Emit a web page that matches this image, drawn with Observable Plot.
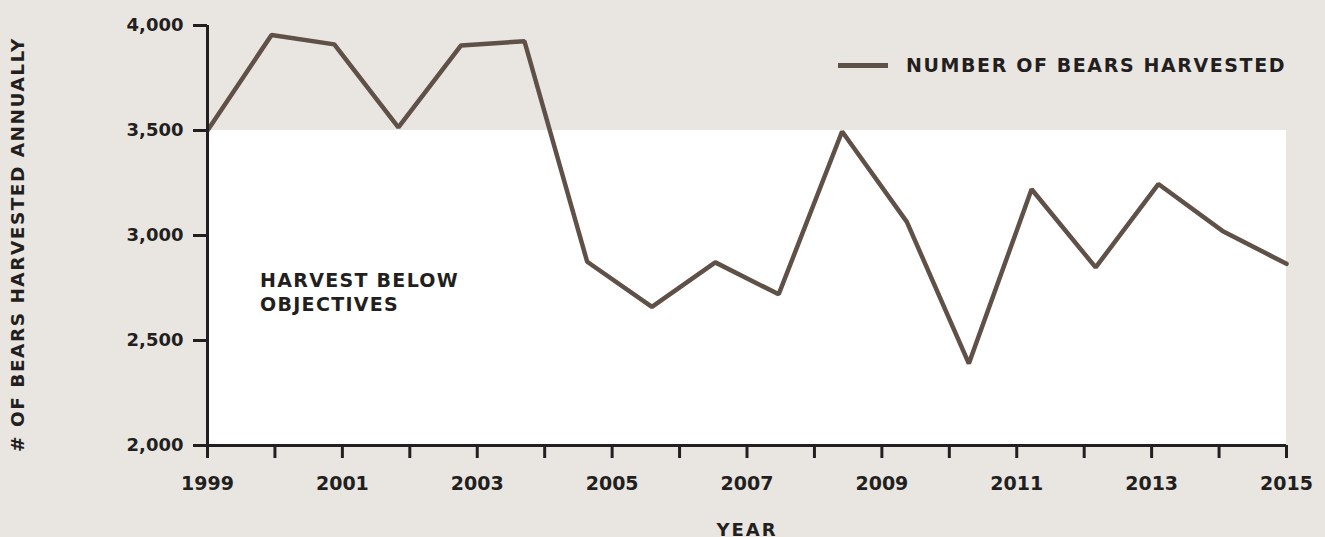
<!DOCTYPE html>
<html>
<head>
<meta charset="utf-8">
<script src="https://cdn.jsdelivr.net/npm/d3@7"></script>
<script src="https://cdn.jsdelivr.net/npm/@observablehq/plot@0.6"></script>
<style>
  html, body { margin: 0; padding: 0; background: #e9e6e1; }
  #wrap { position: relative; width: 1325px; height: 537px; font-family: "DejaVu Sans", sans-serif; font-weight: 700; color: #231f20; }
  .legend { position: absolute; left: 838px; top: 53px; height: 24px; display: flex; align-items: center; font-size: 19px; line-height: 24px; letter-spacing: 1.6px; white-space: nowrap; }
  .legend .sw { width: 50px; height: 5px; background: #5f5048; margin-right: 18px; }
  .note { position: absolute; left: 260px; top: 268px; font-size: 19px; letter-spacing: 1.3px; line-height: 24px; white-space: nowrap; }
</style>
</head>
<body>
<div id="wrap">
  <div id="chart"></div>
  <div class="legend"><div class="sw"></div><span>NUMBER OF BEARS HARVESTED</span></div>
  <div class="note">HARVEST BELOW<br>OBJECTIVES</div>
</div>
<script>
// Data (x position of each season as read along the year axis)
const seasonX = [1999.0, 1999.95, 2000.88, 2001.83, 2002.76, 2003.70, 2004.63, 2005.59, 2006.53, 2007.47, 2008.41, 2009.37, 2010.29, 2011.22, 2012.17, 2013.10, 2014.05, 2015.0];
const harvested = [3500, 3955, 3910, 3515, 3905, 3925, 2875, 2660, 2872, 2720, 3495, 3065, 2390, 3220, 2848, 3245, 3022, 2865];
const tickYears = [1999, 2000, 2001, 2002, 2003, 2004, 2005, 2006, 2007, 2008, 2009, 2010, 2011, 2012, 2013, 2014, 2015];
const yTicks = [2000, 2500, 3000, 3500, 4000];
const objective = 3500;
const xDomain = [1999, 2015];
const yDomain = [2000, 4000];
const xTitle = "YEAR";
const yTitle = "# OF BEARS HARVESTED ANNUALLY";

const data = seasonX.map((x, i) => ({x, v: harvested[i]}));
const ink = "#231f20";
const lineColor = "#5f5048";

const chart = Plot.plot({
  width: 1325,
  height: 537,
  marginLeft: 207,
  marginRight: 39,
  marginTop: 25,
  marginBottom: 92,
  style: {background: "transparent", fontFamily: "'DejaVu Sans', sans-serif", fontSize: "19px", fontWeight: 700, color: ink, overflow: "visible"},
  x: {domain: xDomain},
  y: {domain: yDomain},
  marks: [
    Plot.rect([{x1: xDomain[0], x2: xDomain[1], y1: yDomain[0], y2: objective}], {x1: "x1", x2: "x2", y1: "y1", y2: "y2", fill: "white"}),
    Plot.line(data, {x: "x", y: "v", stroke: lineColor, strokeWidth: 4.5, strokeLinejoin: "miter"}),
    Plot.ruleX([xDomain[0]], {stroke: ink, strokeWidth: 3}),
    Plot.ruleY([yDomain[0]], {stroke: ink, strokeWidth: 3}),
    Plot.axisY(yTicks, {tickSize: 14, tickPadding: 10, tickFormat: d => d3.format(",")(d), stroke: ink, strokeWidth: 3, fill: ink, fontSize: 18, fontWeight: 700, label: null}),
    Plot.axisX(tickYears, {tickSize: 13, tickPadding: 18, tickFormat: d => (d % 2 === 1 ? String(d) : ""), stroke: ink, strokeWidth: 3, fill: ink, fontSize: 19, fontWeight: 700, label: null}),
    Plot.text([xTitle], {frameAnchor: "bottom", dy: 90, fill: ink, fontSize: 18, fontWeight: 700}),
    Plot.text([yTitle], {frameAnchor: "left", textAnchor: "middle", rotate: -90, dx: -189, dy: 9, fill: ink, fontSize: 18.5, fontWeight: 700})
  ]
});
chart.querySelectorAll("text").forEach(t => {
  const s = t.textContent;
  if (s === yTitle) t.setAttribute("letter-spacing", "1.5");
  if (s === xTitle) t.setAttribute("letter-spacing", "2");
});
document.getElementById("chart").appendChild(chart);
</script>
</body>
</html>
